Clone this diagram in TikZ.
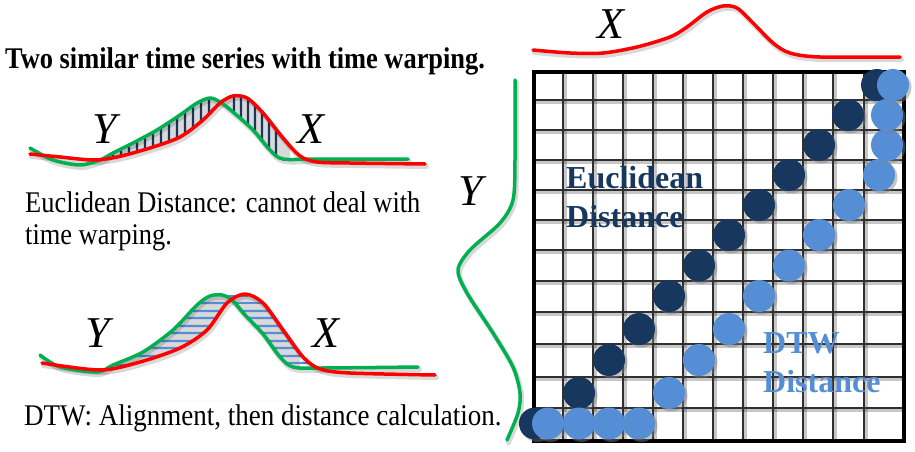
\documentclass[tikz,border=0pt]{standalone}
\usepackage{fontspec}
\setmainfont{Liberation Serif}
\usepackage{graphicx}
\usetikzlibrary{intersections,shadows}
\definecolor{cred}{RGB}{255,0,0}
\definecolor{cgreen}{RGB}{0,176,80}
\definecolor{cnavy}{RGB}{23,55,94}
\definecolor{clight}{RGB}{85,142,213}
\definecolor{cgrid}{RGB}{48,48,48}
\def\Rone{plot[smooth] coordinates {(30,154) (60,157) (93,160) (117,157) (150,148) (180,137) (203,120) (220,103) (233,96) (247,98) (263,113) (283,138) (300,156) (317,162) (350,163) (425,164)}}
\def\Gone{plot[smooth] coordinates {(30,148) (53,160) (80,165) (100,160) (113,153) (133,143) (157,130) (180,115) (197,103) (210,98) (220,102) (233,112) (253,130) (270,150) (283,159) (317,159) (408,159)}}
\def\Rtwo{plot[smooth] coordinates {(42,363) (100,370) (140,362) (180,348) (207,330) (227,303) (245,294) (263,303) (283,330) (303,357) (320,369) (350,373) (435,375)}}
\def\Gtwo{plot[smooth] coordinates {(40,355) (60,367) (97,372) (113,365) (143,352) (173,330) (197,305) (210,296) (222,295) (232,300) (245,315) (263,334) (280,357) (293,367) (320,368) (418,367)}}
\def\Rthree{plot[smooth] coordinates {(533,50) (570,53) (603,53) (637,47) (670,37) (687,27) (707,12) (723,6) (737,8) (753,23) (773,43) (790,53) (820,57) (900,57)}}
\def\Gthree{plot[smooth] coordinates {(515,80) (515,160) (513,200) (500,223) (470,250) (458,270) (467,293) (493,333) (513,367) (520,393) (518,413) (507,440)}}
\begin{document}
\begin{tikzpicture}[x=1pt,y=-1pt,
  redc/.style={draw=cred,line width=3.5pt,line cap=round,line join=round},
  greenc/.style={draw=cgreen,line width=3.5pt,line cap=round,line join=round},
  cshadow/.style={draw=black,opacity=0.15,line width=5pt,line cap=round,line join=round},
  hatchv/.style={draw=cnavy,line width=2.4pt},
  hatchh/.style={draw=clight,line width=2.4pt},
  betweenfill/.style={fill=black!15},
  gridline/.style={draw=cgrid,line width=2.6pt},
  gridshadow/.style={draw=black,opacity=0.22,line width=3pt},
  dotshadow/.style={drop shadow={shadow xshift=2.5pt,shadow yshift=-2.5pt,opacity=0.45}},
  dotd/.style={circle,fill=cnavy,minimum size=32pt,inner sep=0pt,dotshadow},
  dotl/.style={circle,fill=clight,minimum size=32pt,inner sep=0pt,dotshadow},
  lbl/.style={font=\fontsize{44}{50}\selectfont\itshape,inner sep=0pt,anchor=base west},
  txt/.style={inner sep=0pt,anchor=base west},
  gtxt/.style={inner sep=0pt,anchor=base west,font=\fontsize{32}{38}\selectfont\bfseries},
]
\useasboundingbox (0,0) rectangle (915,452);
\fill[white] (0,0) rectangle (915,452);

% ---------- texts on the left ----------
\node[txt] (title) at (5,68) {\scalebox{0.88}[1]{\fontsize{30}{36}\selectfont\bfseries Two similar time series with time warping.}};
\node[txt] (eu1) at (25,212) {\scalebox{0.88}[1]{\fontsize{30}{36}\selectfont Euclidean Distance: cannot deal with}};
\node[txt] (eu2) at (25,244) {\scalebox{0.88}[1]{\fontsize{30}{36}\selectfont time warping.}};
\node[txt] (dtw) at (24,425) {\scalebox{0.9}[1]{\fontsize{30}{36}\selectfont DTW: Alignment, then distance calculation.}};

% ---------- top-left: Euclidean ----------
\path[name path=r1] \Rone;
\path[name path=g1] \Gone;
\begin{scope}
  \clip (105,60) rectangle (290,200);
  \fill[betweenfill,even odd rule] \Rone -- (425,200) -- (30,200) -- cycle \Gone -- (408,200) -- (30,200) -- cycle;
\end{scope}
\foreach \xx in {113,121,129,137,145,153,161,169,177,185,193,201,209,234,241,248,255,262,269,276} {
  \path[name path=vv] (\xx,60) -- (\xx,200);
  \path[name intersections={of=vv and r1,by=pa}];
  \path[name intersections={of=vv and g1,by=pb}];
  \draw[hatchv] (pa) -- (pb);
}
\begin{scope}[shift={(1.5,2.5)}]
  \draw[cshadow] \Gone; \draw[cshadow] \Rone;
\end{scope}
\draw[greenc] \Gone;
\draw[redc] \Rone;
\node[lbl] (y1) at (92,143) {Y};
\node[lbl] (x1) at (297,143) {X};

% ---------- bottom-left: DTW ----------
\path[name path=r2] \Rtwo;
\path[name path=g2] \Gtwo;
\begin{scope}
  \clip (105,280) rectangle (300,400);
  \fill[betweenfill,even odd rule] \Rtwo -- (435,400) -- (40,400) -- cycle \Gtwo -- (418,400) -- (40,400) -- cycle;
\end{scope}
\foreach \yy in {303,311,318,326,333,341,348,356,365} {
  \path[name path=hh] (100,\yy) -- (236,\yy);
  \path[name intersections={of=hh and g2,by=qa}];
  \path[name intersections={of=hh and r2,by=qb}];
  \draw[hatchh] (qa) -- (qb);
}
\foreach \yy in {311,318,326,333,341,348,356,363} {
  \path[name path=hh] (238,\yy) -- (340,\yy);
  \path[name intersections={of=hh and g2,by=qa}];
  \path[name intersections={of=hh and r2,by=qb}];
  \draw[hatchh] (qa) -- (qb);
}
\coordinate (ta) at (222,296); \coordinate (tb) at (248,296);
\coordinate (tc) at (235,303); \coordinate (td) at (263,303);
\draw[hatchh] (ta) -- (tb);
\draw[hatchh] (tc) -- (td);
\begin{scope}[shift={(1.5,2.5)}]
  \draw[cshadow] \Gtwo; \draw[cshadow] \Rtwo;
\end{scope}
\draw[greenc] \Gtwo;
\draw[redc] \Rtwo;
\node[lbl] (y2) at (85,347) {Y};
\node[lbl] (x2) at (312,347) {X};

% ---------- right: grid ----------
\begin{scope}[shift={(2,2)}]
  \foreach \gx in {563,593,623,653,683,713,743,773,803,833,864} \draw[gridshadow] (\gx,70) -- (\gx,439);
  \foreach \gy in {100,130,160,190,220,250,281,312,344,377,408} \draw[gridshadow] (532,\gy) -- (902,\gy);
  \draw[draw=black,opacity=0.2,line width=3.5pt] (532,70) rectangle (902,439);
\end{scope}
\foreach \gx in {563,593,623,653,683,713,743,773,803,833,864} \draw[gridline] (\gx,70) -- (\gx,439);
\foreach \gy in {100,130,160,190,220,250,281,312,344,377,408} \draw[gridline] (532,\gy) -- (902,\gy);
\node[draw=black,line width=3.5pt,inner sep=0pt,minimum width=370pt,minimum height=369pt,anchor=north west] (grid) at (532,70) {};

\node[gtxt,text=cnavy] (e1) at (566,188) {Euclidean};
\node[gtxt,text=cnavy] (e2) at (566,227) {Distance};
\node[gtxt,text=clight] (t1) at (763,353) {DTW};
\node[gtxt,text=clight] (t2) at (763,392) {Distance};

% dark dots (Euclidean)
\node[dotd] (d0) at (535,423.5) {};
\node[dotd] (d1) at (579,393) {};
\node[dotd] (d2) at (609,360) {};
\node[dotd] (d3) at (639,329) {};
\node[dotd] (d4) at (669,296) {};
\node[dotd] (d5) at (699,265.5) {};
\node[dotd] (d6) at (729,235) {};
\node[dotd] (d7) at (759,205) {};
\node[dotd] (d8) at (789,175) {};
\node[dotd] (d9) at (819,145) {};
\node[dotd] (d10) at (848,115) {};
\node[dotd] (d11) at (877,85) {};
% light dots (DTW)
\node[dotl] (l0) at (548,423.5) {};
\node[dotl] (l1) at (579,423.5) {};
\node[dotl] (l2) at (609,423.5) {};
\node[dotl] (l3) at (639,423.5) {};
\node[dotl] (l4) at (669,393) {};
\node[dotl] (l5) at (699,360) {};
\node[dotl] (l6) at (729,329) {};
\node[dotl] (l7) at (759,296) {};
\node[dotl] (l8) at (789,265.5) {};
\node[dotl] (l9) at (819,235) {};
\node[dotl] (l10) at (849,205) {};
\node[dotl] (l11) at (879,175) {};
\node[dotl] (l12) at (887,145) {};
\node[dotl] (l13) at (887,115) {};
\node[dotl] (l14) at (893,85) {};

% series beside the grid
\begin{scope}[shift={(1.5,2.5)}]
  \draw[cshadow] \Rthree; \draw[cshadow] \Gthree;
\end{scope}
\draw[redc] \Rthree;
\draw[greenc] \Gthree;
\node[lbl] (x3) at (597,38) {X};
\node[lbl] (y3) at (458,205) {Y};
\end{tikzpicture}
\end{document}
